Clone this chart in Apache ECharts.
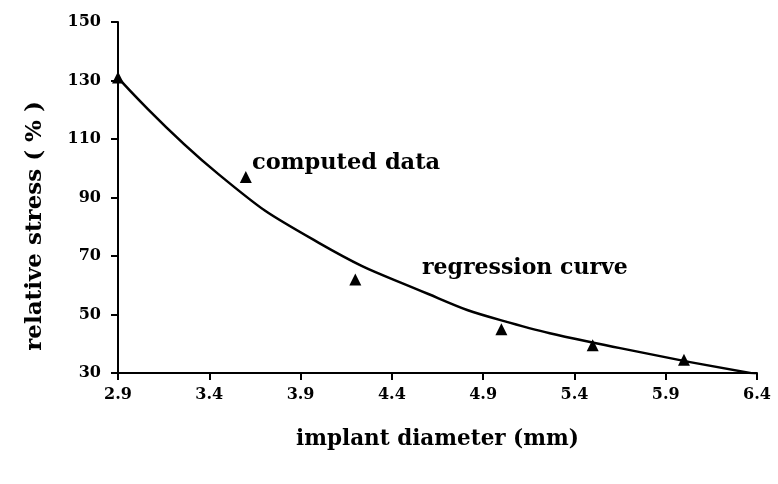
<!DOCTYPE html>
<html>
<head>
<meta charset="utf-8">
<script src="https://cdn.jsdelivr.net/npm/echarts@6/dist/echarts.min.js"></script>
<style>
  html, body { margin: 0; padding: 0; background: #fff; }
  #chart { width: 778px; height: 484px; }
</style>
</head>
<body>
<div id="chart"></div>
<script>
// -- Data --
const computedX = [2.9, 3.6, 4.2, 5.0, 5.5, 6.0];
const computedY = [131, 97, 62, 45, 39.5, 34.5];

// regression curve, sampled along the drawn line
const curveX = [2.9, 3.45, 4.0, 4.6, 5.0, 5.65, 6.4];
const curveY = [131, 98, 74.5, 57, 48, 38.5, 29.6];

const FONT = '"DejaVu Serif", "Liberation Serif", serif';

const chart = echarts.init(document.getElementById('chart'), null, { renderer: 'canvas' });

chart.setOption({
  animation: false,
  backgroundColor: '#fff',
  grid: { left: 118, right: 21, top: 22, bottom: 111 },
  xAxis: {
    type: 'value',
    min: 2.9,
    max: 6.4,
    interval: 0.5,
    name: 'implant diameter (mm)',
    nameLocation: 'middle',
    nameGap: 55,
    nameTextStyle: { fontFamily: FONT, fontWeight: 'bold', fontSize: 21.5, color: '#000' },
    axisLine: { lineStyle: { color: '#000', width: 2 } },
    axisTick: { length: 7, lineStyle: { color: '#000', width: 2 } },
    axisLabel: {
      margin: 14,
      fontFamily: FONT, fontWeight: 'bold', fontSize: 16, color: '#000',
      formatter: v => v.toFixed(1)
    },
    splitLine: { show: false }
  },
  yAxis: {
    type: 'value',
    min: 30,
    max: 150,
    interval: 20,
    axisLine: { show: true, lineStyle: { color: '#000', width: 2 } },
    axisTick: { show: true, length: 7, lineStyle: { color: '#000', width: 2 } },
    axisLabel: { margin: 17, fontFamily: FONT, fontWeight: 'bold', fontSize: 16, color: '#000' },
    splitLine: { show: false }
  },
  series: [
    {
      name: 'regression curve',
      type: 'line',
      smooth: 0.5,
      showSymbol: false,
      data: curveX.map((x, i) => [x, curveY[i]]),
      lineStyle: { color: '#000', width: 2.5 },
      z: 2
    },
    {
      name: 'computed data',
      type: 'scatter',
      symbol: 'triangle',
      symbolSize: 12,
      data: computedX.map((x, i) => [x, computedY[i]]),
      itemStyle: { color: '#000', opacity: 1 },
      z: 3
    }
  ],
  graphic: [
    {
      type: 'text', x: 35, y: 226, rotation: Math.PI / 2,
      style: {
        text: 'relative stress ( % )', font: 'bold 23px ' + FONT, fill: '#000',
        align: 'center', verticalAlign: 'middle'
      }
    },
    {
      type: 'text', left: 252, top: 152,
      style: { text: 'computed data', font: 'bold 22.5px ' + FONT, fill: '#000' }
    },
    {
      type: 'text', left: 422, top: 257,
      style: { text: 'regression curve', font: 'bold 22px ' + FONT, fill: '#000' }
    }
  ]
});
</script>
</body>
</html>
